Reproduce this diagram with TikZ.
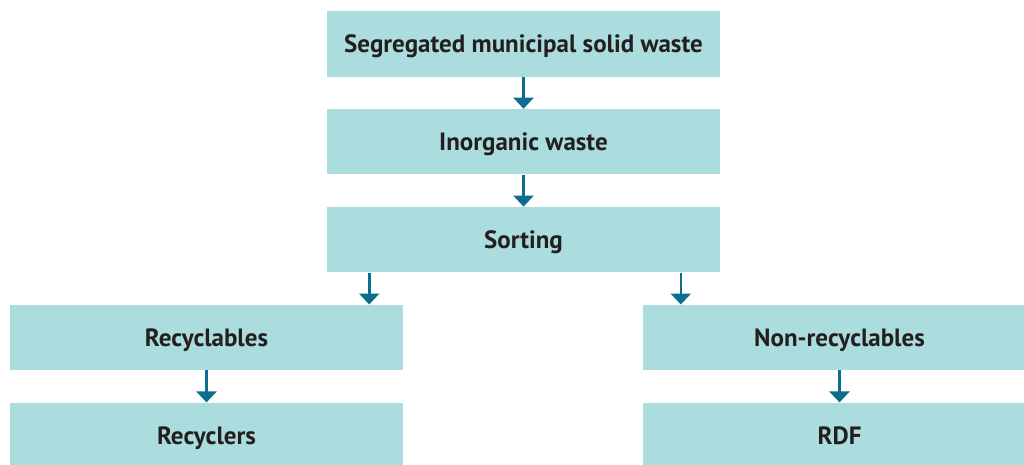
\documentclass[tikz,border=0pt]{standalone}
\usepackage{fontspec}
\setmainfont{PT Sans}
\usepackage{tikz}
\usetikzlibrary{positioning,arrows.meta}

\definecolor{boxfill}{HTML}{ACDDDE}
\definecolor{arrowteal}{HTML}{0B6E8E}
\definecolor{textdark}{HTML}{231F20}

\begin{document}
\begin{tikzpicture}[
    x=1pt, y=1pt,
    node distance=32pt,
    box/.style={rectangle, draw=none, fill=boxfill, minimum width=393pt, minimum height=65.5pt, text height=18pt, text depth=0pt, align=center, text=textdark, font=\fontsize{25}{28}\selectfont\bfseries},
    arrow/.style={-{Triangle[width=20pt,length=11pt]}, line width=2.6pt, draw=arrowteal}
]
\useasboundingbox (0,0) rectangle (1024,-464);

% Nodes
\node[box] (msw) at (523.5,-43.75) {Segregated municipal solid waste};
\node[box, below=of msw] (inorganic) {Inorganic waste};
\node[box, below=of inorganic] (sorting) {Sorting};
\node[box, below=of sorting, xshift=-317pt] (recyclables) {Recyclables};
\node[box, below=of sorting, xshift=316pt] (nonrecyclables) {Non-recyclables};
\node[box, below=of recyclables] (recyclers) {Recyclers};
\node[box, below=of nonrecyclables] (rdf) {RDF};

% Arrows
\draw[arrow] (msw) -- (inorganic);
\draw[arrow] (inorganic) -- (sorting);
\draw[arrow] ([xshift=-34pt]sorting.south -| recyclables.east) -- ([xshift=-34pt]recyclables.north east);
\draw[arrow] ([xshift=38pt]sorting.south -| nonrecyclables.west) -- ([xshift=38pt]nonrecyclables.north west);
\draw[arrow] (recyclables) -- (recyclers);
\draw[arrow] (nonrecyclables) -- (rdf);

\end{tikzpicture}
\end{document}
